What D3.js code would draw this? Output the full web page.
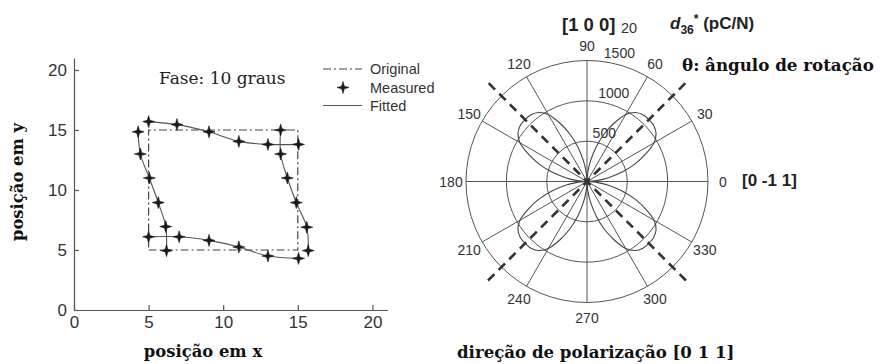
<!DOCTYPE html>
<html><head><meta charset="utf-8">
<script src="https://cdn.jsdelivr.net/npm/d3@7"></script>
<style>
html,body{margin:0;padding:0;background:#fff;}
svg{display:block;}
</style></head>
<body>
<svg id="c" width="880" height="364"></svg>
<script>
// ---------- DATA: left chart ----------
const axisTicks = [0, 5, 10, 15, 20];
const originalX = [5, 15, 15, 5, 5];
const originalY = [5, 5, 15, 15, 5];
const topX = [5.0, 6.9, 9.05, 11.05, 13.0, 15.05];
const topY = [15.7, 15.45, 14.85, 14.05, 13.8, 13.8];
const rightX = [13.85, 13.85, 14.3, 14.9, 15.6, 15.7];
const rightY = [15.0, 13.0, 11.0, 8.95, 6.9, 4.95];
const bottomX = [5.0, 7.05, 9.05, 11.05, 13.0, 15.05];
const bottomY = [6.1, 6.1, 5.8, 5.25, 4.5, 4.3];
const leftX = [4.3, 4.45, 5.05, 5.65, 6.15, 6.2];
const leftY = [14.85, 13.0, 11.0, 8.95, 6.95, 4.95];
const legendLabels = ["Original", "Measured", "Fitted"];

// ---------- DATA: polar chart ----------
const ringValues = [500, 1000, 1500];
const spokeAngles = [0, 30, 60, 90, 120, 150, 180, 210, 240, 270, 300, 330];
const lobeAngles = d3.range(0, 360, 5);
const lobeValues = [
  0, 120, 270, 450, 630, 800, 960, 1045, 1080, 1085, 1080, 1045, 960, 800, 630, 450, 270, 120,
  0, 120, 270, 450, 630, 800, 960, 1045, 1080, 1085, 1080, 1045, 960, 800, 630, 450, 270, 120,
  0, 120, 270, 450, 630, 800, 960, 1045, 1080, 1085, 1080, 1045, 960, 800, 630, 450, 270, 120,
  0, 120, 270, 450, 630, 800, 960, 1045, 1080, 1085, 1080, 1045, 960, 800, 630, 450, 270, 120
];
const dashedAngles = [45, 135];
const dashedExtent = 1735;

const svg = d3.select("#c");
const ink = "#333";
const serif = "'DejaVu Serif', serif";
const sans = "'Liberation Sans', Arial, sans-serif";

// ================= LEFT CHART =================
const x = d3.scaleLinear().domain([0, 21]).range([74, 387.3]);
const y = d3.scaleLinear().domain([0, 21]).range([310, 58]);

const gL = svg.append("g");
const xAxis = d3.axisBottom(x).tickValues(axisTicks).tickSizeInner(-5).tickSizeOuter(0).tickPadding(6);
const yAxis = d3.axisLeft(y).tickValues(axisTicks).tickSizeInner(-5).tickSizeOuter(0).tickPadding(7);
const gx = gL.append("g").attr("transform", `translate(0,${y(0)})`).call(xAxis);
const gy = gL.append("g").attr("transform", `translate(${x(0)},0)`).call(yAxis);
[gx, gy].forEach(g => {
  g.select(".domain").attr("stroke", "#555").attr("stroke-width", 1.2);
  g.selectAll(".tick line").attr("stroke", "#555").attr("stroke-width", 1.2);
  g.selectAll(".tick text").attr("fill", ink).style("font-family", sans).style("font-size", "17px");
});

// original square
const orig = originalX.map((v, i) => [v, originalY[i]]);
gL.append("path")
  .attr("d", d3.line().x(d => x(d[0])).y(d => y(d[1]))(orig))
  .attr("fill", "none").attr("stroke", "#444").attr("stroke-width", 1.2)
  .attr("stroke-dasharray", "8,3,2,3");

// fitted curves + markers
const edges = [[topX, topY], [rightX, rightY], [bottomX, bottomY], [leftX, leftY]];
const fitLine = d3.line().x(d => x(d[0])).y(d => y(d[1])).curve(d3.curveCatmullRom.alpha(0.5));
function starPath(R, r) {
  const pts = [];
  for (let k = 0; k < 8; k++) {
    const a = k * Math.PI / 4;
    const rr = k % 2 === 0 ? R : r;
    pts.push([rr * Math.cos(a), rr * Math.sin(a)]);
  }
  return "M" + pts.map(p => p[0].toFixed(2) + "," + p[1].toFixed(2)).join("L") + "Z";
}
const star = starPath(6, 1.9);
edges.forEach(([ex, ey]) => {
  const pts = ex.map((v, i) => [v, ey[i]]);
  gL.append("path").attr("d", fitLine(pts))
    .attr("fill", "none").attr("stroke", "#555").attr("stroke-width", 1.1);
});
edges.forEach(([ex, ey]) => {
  const pts = ex.map((v, i) => [v, ey[i]]);
  gL.selectAll(null).data(pts).enter().append("path")
    .attr("d", star)
    .attr("transform", d => `translate(${x(d[0])},${y(d[1])})`)
    .attr("fill", "#1a1a1a").attr("stroke", "#1a1a1a").attr("stroke-width", 0.6);
});

// legend
const lg = gL.append("g");
const legY = [69, 87.5, 105.5];
lg.append("line").attr("x1", 323).attr("x2", 362).attr("y1", legY[0]).attr("y2", legY[0])
  .attr("stroke", "#444").attr("stroke-width", 1.2).attr("stroke-dasharray", "8,3,2,3");
lg.append("path").attr("d", star).attr("transform", `translate(343,${legY[1]})`)
  .attr("fill", "#1a1a1a").attr("stroke", "#1a1a1a").attr("stroke-width", 0.6);
lg.append("line").attr("x1", 323).attr("x2", 362).attr("y1", legY[2]).attr("y2", legY[2])
  .attr("stroke", "#555").attr("stroke-width", 1.1);
legendLabels.forEach((t, i) => {
  lg.append("text").attr("x", 370).attr("y", legY[i] + 5).text(t)
    .attr("fill", ink).style("font-family", sans).style("font-size", "14.5px");
});

gL.append("text").attr("x", 159).attr("y", 84).text("Fase: 10 graus")
  .attr("fill", "#222").style("font-family", serif).style("font-size", "17px");
gL.append("text").attr("x", 203).attr("y", 357).attr("text-anchor", "middle").text("posição em x")
  .attr("fill", "#111").style("font-family", serif).style("font-weight", "bold").style("font-size", "16.4px");
gL.append("text").attr("transform", "translate(23,182) rotate(-90)").attr("text-anchor", "middle").text("posição em y")
  .attr("fill", "#111").style("font-family", serif).style("font-weight", "bold").style("font-size", "16.4px");

// ================= POLAR CHART =================
const cx = 587, cy = 181.5;
const r = d3.scaleLinear().domain([0, 1500]).range([0, 121]);
const gP = svg.append("g").attr("transform", `translate(${cx},${cy})`);
const rad = a => a * Math.PI / 180;
const grid = "#555";

// rings
gP.selectAll(".ring").data(ringValues).enter().append("circle")
  .attr("r", d => r(d)).attr("fill", "none").attr("stroke", grid).attr("stroke-width", 1);
// spokes
gP.selectAll(".spoke").data(spokeAngles).enter().append("line")
  .attr("x1", 0).attr("y1", 0)
  .attr("x2", d => r(1500) * Math.cos(rad(d)))
  .attr("y2", d => -r(1500) * Math.sin(rad(d)))
  .attr("stroke", grid).attr("stroke-width", 1);

// lobes
const lobe = lobeAngles.map((a, i) => ({a, v: lobeValues[i]}));
gP.append("path")
  .attr("d", d3.lineRadial().angle(d => rad(90 - d.a)).radius(d => r(d.v)).curve(d3.curveCardinalClosed.tension(0.2))(lobe))
  .attr("fill", "none").attr("stroke", "#444").attr("stroke-width", 1.1);

// dashed diagonals
gP.selectAll(".dash").data(dashedAngles).enter().append("line")
  .attr("x1", d => -r(dashedExtent) * Math.cos(rad(d)))
  .attr("y1", d => r(dashedExtent) * Math.sin(rad(d)))
  .attr("x2", d => r(dashedExtent) * Math.cos(rad(d)))
  .attr("y2", d => -r(dashedExtent) * Math.sin(rad(d)))
  .attr("stroke", "#333").attr("stroke-width", 2.6).attr("stroke-dasharray", "9,6");

// angle labels
gP.selectAll(".alab").data(spokeAngles).enter().append("text")
  .attr("x", d => 136 * Math.cos(rad(d)))
  .attr("y", d => -136 * Math.sin(rad(d)) + 5)
  .attr("text-anchor", "middle")
  .text(d => d)
  .attr("fill", ink).style("font-family", sans).style("font-size", "14px");
// ring labels
gP.selectAll(".rlab").data(ringValues).enter().append("text")
  .attr("x", d => r(d) * Math.cos(rad(82)))
  .attr("y", d => -r(d) * Math.sin(rad(82)) - 4)
  .text(d => d)
  .attr("fill", ink).style("font-family", sans).style("font-size", "14px");

// titles
svg.append("text").attr("x", 562).attr("y", 31).text("[1 0 0]")
  .attr("fill", "#222").style("font-family", sans).style("font-weight", "bold").style("font-size", "18.5px");
svg.append("text").attr("x", 621).attr("y", 33).text("20")
  .attr("fill", ink).style("font-family", sans).style("font-size", "14.5px");
const dt = svg.append("text").attr("x", 670).attr("y", 29)
  .attr("fill", "#222").style("font-family", sans).style("font-weight", "bold").style("font-size", "17px");
dt.append("tspan").text("d").style("font-style", "italic");
dt.append("tspan").text("36").attr("dy", 5).style("font-size", "12px");
dt.append("tspan").text("*").attr("dy", -11).style("font-size", "12px");
dt.append("tspan").text(" (pC/N)").attr("dy", 6);

svg.append("text").attr("x", 682).attr("y", 71).text("θ: ângulo de rotação")
  .attr("fill", "#111").style("font-family", serif).style("font-weight", "bold").style("font-size", "16.7px");
svg.append("text").attr("x", 742).attr("y", 186).text("[0 -1 1]")
  .attr("fill", "#222").style("font-family", sans).style("font-weight", "bold").style("font-size", "17px");
svg.append("text").attr("x", 457).attr("y", 358).text("direção de polarização [0 1 1]")
  .attr("fill", "#111").style("font-family", serif).style("font-weight", "bold").style("font-size", "16.6px");
</script>
</body></html>
